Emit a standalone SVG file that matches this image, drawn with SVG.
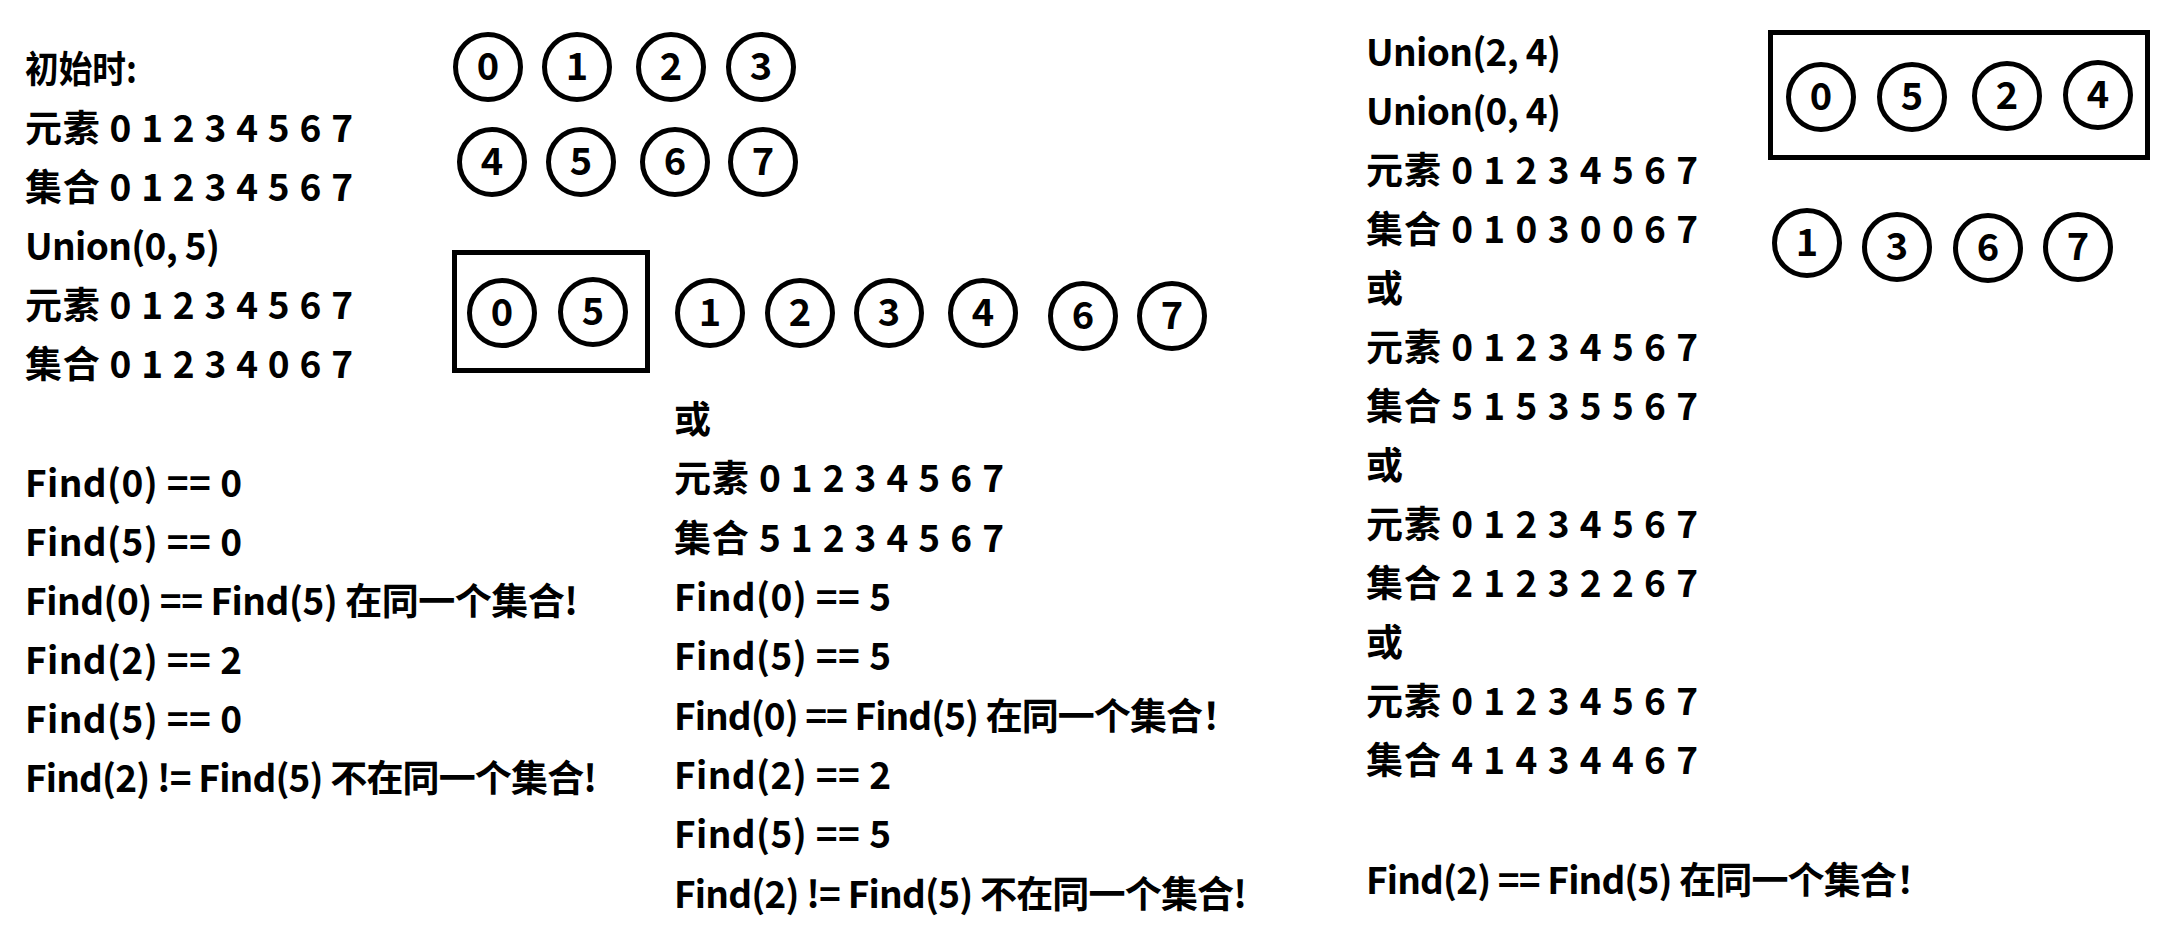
<svg xmlns="http://www.w3.org/2000/svg" width="2166" height="942" viewBox="0 0 2166 942">
<style>
.t{font-family:"Noto Sans CJK SC","Noto Sans",sans-serif;font-weight:700;font-size:37px;fill:#000}
.n{font-family:"Noto Sans CJK SC","Noto Sans",sans-serif;font-weight:700;font-size:38px;fill:#000;text-anchor:middle}
.c{fill:none;stroke:#000;stroke-width:5}
.b{fill:none;stroke:#000;stroke-width:5}
</style>
<defs>
<g id="ring"><circle class="c" cx="0" cy="0" r="32.5"/></g>
</defs>
<rect width="2166" height="942" fill="#fff"/>
<g id="text-left">
<text class="t" x="25" y="83" textLength="112" lengthAdjust="spacingAndGlyphs">初始时:</text>
<text class="t" x="25" y="142" textLength="328">元素 0 1 2 3 4 5 6 7</text>
<text class="t" x="25" y="201" textLength="328">集合 0 1 2 3 4 5 6 7</text>
<text class="t" x="25" y="260" textLength="195">Union(0, 5)</text>
<text class="t" x="25" y="319" textLength="328">元素 0 1 2 3 4 5 6 7</text>
<text class="t" x="25" y="378" textLength="328">集合 0 1 2 3 4 0 6 7</text>
<text class="t" x="25" y="497" textLength="217">Find(0) == 0</text>
<text class="t" x="25" y="556" textLength="217">Find(5) == 0</text>
<text class="t" x="25" y="615" textLength="553">Find(0) == Find(5) 在同一个集合!</text>
<text class="t" x="25" y="674" textLength="217">Find(2) == 2</text>
<text class="t" x="25" y="733" textLength="217">Find(5) == 0</text>
<text class="t" x="25" y="792" textLength="572">Find(2) != Find(5) 不在同一个集合!</text>
</g>
<g id="text-middle">
<text class="t" x="674" y="433">或</text>
<text class="t" x="674" y="492" textLength="330">元素 0 1 2 3 4 5 6 7</text>
<text class="t" x="674" y="552" textLength="330">集合 5 1 2 3 4 5 6 7</text>
<text class="t" x="674" y="611" textLength="217">Find(0) == 5</text>
<text class="t" x="674" y="670" textLength="217">Find(5) == 5</text>
<text class="t" x="674" y="730" textLength="565">Find(0) == Find(5) 在同一个集合！</text>
<text class="t" x="674" y="789" textLength="217">Find(2) == 2</text>
<text class="t" x="674" y="848" textLength="217">Find(5) == 5</text>
<text class="t" x="674" y="908" textLength="573">Find(2) != Find(5) 不在同一个集合!</text>
</g>
<g id="text-right">
<text class="t" x="1366" y="66" textLength="195">Union(2, 4)</text>
<text class="t" x="1366" y="125" textLength="195">Union(0, 4)</text>
<text class="t" x="1366" y="184" textLength="332">元素 0 1 2 3 4 5 6 7</text>
<text class="t" x="1366" y="243" textLength="332">集合 0 1 0 3 0 0 6 7</text>
<text class="t" x="1366" y="302">或</text>
<text class="t" x="1366" y="361" textLength="332">元素 0 1 2 3 4 5 6 7</text>
<text class="t" x="1366" y="420" textLength="332">集合 5 1 5 3 5 5 6 7</text>
<text class="t" x="1366" y="479">或</text>
<text class="t" x="1366" y="538" textLength="332">元素 0 1 2 3 4 5 6 7</text>
<text class="t" x="1366" y="597" textLength="332">集合 2 1 2 3 2 2 6 7</text>
<text class="t" x="1366" y="656">或</text>
<text class="t" x="1366" y="715" textLength="332">元素 0 1 2 3 4 5 6 7</text>
<text class="t" x="1366" y="774" textLength="332">集合 4 1 4 3 4 4 6 7</text>
<text class="t" x="1366" y="894" textLength="567">Find(2) == Find(5) 在同一个集合！</text>
</g>
<g id="connectors"/>
<g id="init-sets">
<g id="a0"><use href="#ring" x="488" y="67"/><text class="n" x="488" y="80">0</text></g>
<g id="a1"><use href="#ring" x="577" y="67"/><text class="n" x="577" y="80">1</text></g>
<g id="a2"><use href="#ring" x="671" y="67"/><text class="n" x="671" y="80">2</text></g>
<g id="a3"><use href="#ring" x="761" y="67"/><text class="n" x="761" y="80">3</text></g>
<g id="a4"><use href="#ring" x="492" y="162"/><text class="n" x="492" y="175">4</text></g>
<g id="a5"><use href="#ring" x="581" y="162"/><text class="n" x="581" y="175">5</text></g>
<g id="a6"><use href="#ring" x="675" y="162"/><text class="n" x="675" y="175">6</text></g>
<g id="a7"><use href="#ring" x="763" y="162"/><text class="n" x="763" y="175">7</text></g>
</g>
<g id="union05">
<g id="box05"><rect class="b" x="454.5" y="252.5" width="193" height="118"/></g>
<g id="b0"><use href="#ring" x="502" y="313"/><text class="n" x="502" y="326">0</text></g>
<g id="b5"><use href="#ring" x="593" y="312"/><text class="n" x="593" y="325">5</text></g>
<g id="b1"><use href="#ring" x="710" y="313"/><text class="n" x="710" y="326">1</text></g>
<g id="b2"><use href="#ring" x="800" y="313"/><text class="n" x="800" y="326">2</text></g>
<g id="b3"><use href="#ring" x="889" y="313"/><text class="n" x="889" y="326">3</text></g>
<g id="b4"><use href="#ring" x="983" y="313"/><text class="n" x="983" y="326">4</text></g>
<g id="b6"><use href="#ring" x="1083" y="316"/><text class="n" x="1083" y="329">6</text></g>
<g id="b7"><use href="#ring" x="1172" y="316"/><text class="n" x="1172" y="329">7</text></g>
</g>
<g id="union04">
<g id="box0524"><rect class="b" x="1770.5" y="32.5" width="377" height="125"/></g>
<g id="c0"><use href="#ring" x="1821" y="97"/><text class="n" x="1821" y="110">0</text></g>
<g id="c5"><use href="#ring" x="1912" y="97"/><text class="n" x="1912" y="110">5</text></g>
<g id="c2"><use href="#ring" x="2007" y="96"/><text class="n" x="2007" y="109">2</text></g>
<g id="c4"><use href="#ring" x="2098" y="95"/><text class="n" x="2098" y="108">4</text></g>
<g id="c1"><use href="#ring" x="1807" y="243"/><text class="n" x="1807" y="256">1</text></g>
<g id="c3"><use href="#ring" x="1897" y="247"/><text class="n" x="1897" y="260">3</text></g>
<g id="c6"><use href="#ring" x="1988" y="248"/><text class="n" x="1988" y="261">6</text></g>
<g id="c7"><use href="#ring" x="2078" y="247"/><text class="n" x="2078" y="260">7</text></g>
</g>
</svg>
